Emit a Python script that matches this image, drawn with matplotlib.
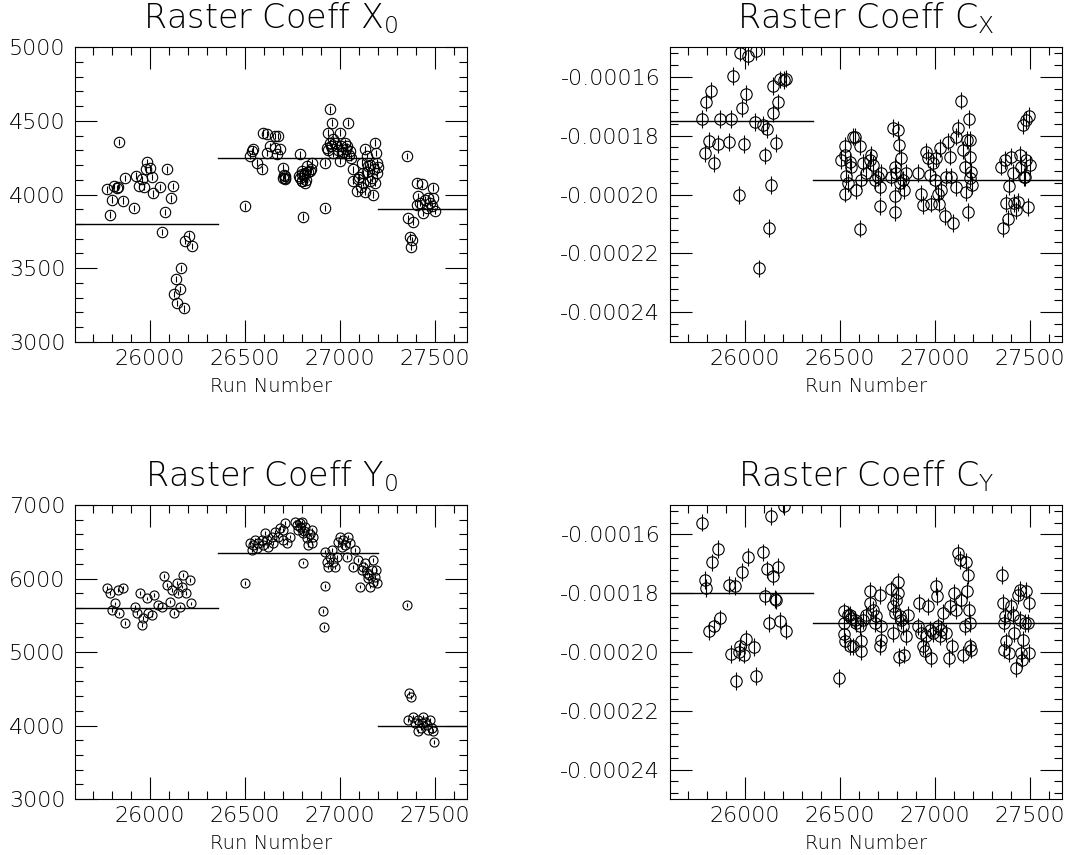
import numpy as np
import matplotlib as mpl
mpl.use('Agg')
import matplotlib.pyplot as plt
from matplotlib.ticker import FixedLocator, MultipleLocator, FormatStrFormatter


# -- DATA -------------------------------------------------------------------

x_lim = (25605, 27668)
x_ticks = [26000, 26500, 27000, 27500]

# Raster Coeff X0
x0_runs = [25839, 25775, 25798, 25789, 25812, 25825, 25833, 25856, 25868, 25918,
           25926, 25944, 25956, 25968, 25979, 25986, 26000, 26009, 26018, 26053,
           26079, 26091, 26109, 26119, 26061, 26161, 26137, 26158, 26126, 26144,
           26179, 26184, 26207, 26219,
           26500, 26526, 26535, 26544, 26561, 26588, 26596, 26614, 26614, 26632,
           26658, 26675, 26658, 26684, 26667, 26702, 26711, 26700, 26705, 26712,
           26708, 26789, 26786, 26798, 26798, 26816, 26825, 26842, 26851, 26804,
           26790, 26800, 26810, 26820, 26830, 26845, 26815, 26800,
           26921, 26921, 26930, 26939, 26947, 26956, 26947, 26965, 26982, 27000,
           27009, 27000, 27035, 27044, 27053, 27026, 26935, 26950, 26965, 26975,
           26990, 27005, 27015, 27030, 27045, 27060,
           27070, 27070, 27088, 27096, 27114, 27123, 27132, 27140, 27149, 27158,
           27175, 27184, 27189, 27193, 27196, 27184, 27100, 27120, 27140, 27160,
           27170, 27180, 27200, 27110, 27130,
           27354, 27360, 27368, 27374, 27377, 27386, 27404, 27412, 27430, 27447,
           27439, 27456, 27474, 27491, 27491, 27500, 27465, 27482, 27421, 27404]
x0_vals = [4355, 4034, 3966, 3864, 4057, 4045, 4050, 3959, 4113, 3909,
           4129, 4057, 4102, 4052, 4170, 4222, 4181, 4120, 4007, 4052,
           3880, 4170, 3973, 4057, 3746, 3499, 3426, 3358, 3324, 3263,
           3227, 3683, 3721, 3649,
           3920, 4261, 4295, 4306, 4216, 4170, 4420, 4408, 4283, 4329,
           4318, 4397, 4397, 4306, 4272, 4182, 4125, 4113, 4130, 4115,
           4105, 4272, 4125, 4159, 4091, 4147, 4193, 4159, 4216, 3850,
           4110, 4095, 4130, 4100, 4150, 4170, 4080, 4140,
           4216, 3910, 4318, 4420, 4578, 4488, 4352, 4374, 4329, 4420,
           4283, 4227, 4329, 4488, 4295, 4352, 4300, 4330, 4280, 4350,
           4300, 4330, 4290, 4310, 4270, 4250,
           4170, 4091, 4022, 4102, 4216, 4147, 4306, 4261, 4193, 4091,
           4000, 4352, 4283, 4216, 4147, 4080, 4120, 4080, 4150, 4200,
           4110, 4170, 4190, 4050, 4020,
           4263, 3839, 3714, 3646, 3692, 3816, 4080, 3991, 4068, 3966,
           3876, 3910, 3944, 4046, 3978, 3887, 3978, 3921, 3944, 3932]
x0_err = 22
x0_means = [3800, 4250, 3900]

# Raster Coeff Y0
y0_runs = [25772, 25789, 25798, 25816, 25833, 25839, 25860, 25868, 25921, 25930,
           25947, 25956, 25965, 25982, 25991, 26009, 26021, 26044, 26061, 26074,
           26088, 26105, 26114, 26126, 26140, 26149, 26158, 26167, 26175, 26189,
           26210, 26216,
           26500, 26526, 26535, 26544, 26553, 26561, 26570, 26588, 26596, 26605,
           26614, 26623, 26640, 26649, 26658, 26675, 26684, 26702, 26711, 26702,
           26719, 26737, 26763, 26772, 26781, 26789, 26798, 26807, 26816, 26825,
           26833, 26851, 26860, 26804, 26851, 26790, 26810, 26840,
           26921, 26930, 26939, 26947, 26956, 26965, 26974, 26982, 26991, 27000,
           27009, 27018, 27026, 27035, 27044, 27053, 27079, 26921, 26912, 26917,
           27070, 27096, 27105, 27114, 27132, 27140, 27149, 27158, 27167, 27175,
           27184, 27193, 27189, 27175, 27120, 27150,
           27354, 27365, 27372, 27360, 27386, 27395, 27412, 27412, 27430, 27439,
           27456, 27474, 27482, 27491, 27495, 27465, 27447, 27425]
y0_vals = [5867, 5799, 5571, 5662, 5844, 5526, 5867, 5399, 5617, 5535,
           5799, 5367, 5458, 5730, 5526, 5503, 5776, 5640, 5617, 6038,
           5912, 5685, 5844, 5535, 5935, 5799, 5617, 5890, 6049, 5799,
           5980, 5662,
           5935, 6479, 6389, 6456, 6524, 6411, 6479, 6524, 6456, 6615,
           6524, 6434, 6570, 6479, 6637, 6570, 6683, 6660, 6751, 6524,
           6479, 6570, 6773, 6728, 6660, 6751, 6773, 6615, 6705, 6547,
           6456, 6660, 6570, 6216, 6479, 6700, 6650, 6600,
           6365, 6229, 6161, 6297, 6388, 6229, 6161, 6297, 6501, 6570,
           6433, 6524, 6456, 6297, 6570, 6479, 6388, 5898, 5558, 5336,
           6161, 6252, 5889, 6116, 6206, 6070, 6002, 5889, 6116, 6252,
           6025, 5935, 6116, 5957, 6150, 6050,
           5640, 4438, 4392, 4075, 4120, 4030, 3923, 4075, 4030, 4120,
           4007, 4075, 3962, 3923, 3780, 3940, 4052, 3962]
y0_err = 25
y0_means = [5600, 6350, 4000]

# Raster Coeff Cx (units of 1e-6)
cx_runs = [25773, 25787, 25795, 25810, 25822, 25834, 25857, 25866, 25913, 25924,
           25939, 25966, 25976, 25983, 25997, 26006, 26015, 26050, 26059, 26073,
           26094, 26104, 26115, 26134, 26125, 26146, 26146, 26161, 26176, 26185,
           26203, 26217,
           26506, 26527, 26528, 26532, 26528, 26550, 26541, 26567, 26558,
           26576, 26585, 26606, 26606, 26611, 26620, 26638, 26655, 26664, 26673,
           26682, 26699, 26708, 26711, 26717, 26778, 26804, 26810, 26787, 26769,
           26796, 26787, 26787, 26822, 26831, 26839, 26848, 26813,
           26910, 26927, 26936, 26954, 26962, 26971, 26980, 26989, 26997, 27006,
           27015, 27020, 27027, 27032, 27050, 27059, 27068, 27076, 27085, 27094,
           27108, 27111, 27122, 27138, 27146, 27155, 27164, 27168, 27173, 27176,
           27182, 27185, 27190, 27196, 27185,
           27348, 27357, 27366, 27371, 27383, 27389, 27401, 27410, 27413, 27427,
           27436, 27445, 27453, 27462, 27466, 27480, 27480, 27489, 27494, 27497,
           27471]
cx_vals = [-174.4, -185.8, -168.5, -181.7, -164.7, -189.2, -182.9, -174.4, -182.1, -174.4,
           -159.8, -200.2, -151.8, -170.6, -182.9, -165.8, -152.9, -175.3, -151.3, -225.1,
           -176.3, -186.7, -177.8, -196.7, -211.3, -172.3, -163.2, -182.6, -168.7, -160.9,
           -161.1, -160.6,
           -188.3, -183.5, -186.6, -193.7, -199.7, -188.8, -196.2, -180.3, -190.5,
           -180.3, -198.5, -211.6, -183.5, -195.1, -189.4, -192.8, -188.3, -186.6, -190.0,
           -195.1, -194.0, -197.4, -203.9, -192.8, -177.4, -178.0, -183.1, -190.5, -194.0,
           -192.8, -200.6, -205.9, -187.7, -195.1, -198.5, -192.8, -196.2,
           -192.8, -199.7, -203.6, -185.4, -187.7, -193.4, -203.1, -189.4, -195.1, -187.7,
           -199.7, -203.1, -184.3, -198.5, -207.4, -194.0, -182.0, -187.1, -194.0, -209.7,
           -180.3, -197.4, -177.4, -168.1, -184.8, -190.5, -199.1, -181.4, -205.9, -174.3,
           -187.1, -181.4, -192.3, -196.8, -194.5,
           -190.5, -211.4, -188.3, -202.8, -208.2, -197.2, -187.1, -192.8, -202.8, -205.4,
           -202.5, -186.6, -190.5, -176.3, -194.0, -174.6, -188.3, -204.2, -173.2, -190.0,
           -194.0]
cx_err = 3.0
cx_means = [-175, -195]

# Raster Coeff Cy (units of 1e-6)
cy_runs = [25773, 25790, 25795, 25810, 25825, 25836, 25857, 25866, 25913, 25924,
           25945, 25953, 25966, 25975, 25983, 25997, 26003, 26015, 26047, 26059,
           26094, 26104, 26115, 26126, 26138, 26146, 26155, 26161, 26176, 26185,
           26203, 26213,
           26497, 26523, 26523, 26523, 26525, 26541, 26550, 26558,
           26550, 26568, 26576, 26585, 26603, 26611, 26611, 26620, 26638, 26655,
           26659, 26673, 26682, 26690, 26708, 26711, 26717, 26717, 26769, 26778,
           26787, 26796, 26804, 26804, 26813, 26810, 26822, 26831, 26839, 26848,
           26857, 26778,
           26918, 26910, 26927, 26936, 26945, 26954, 26962, 26971, 26980, 26989,
           27003, 27010, 27015, 27024, 27032, 27041, 27059, 27073, 27076, 27090,
           27097, 27111, 27120, 27129, 27138, 27146, 27155, 27164, 27168, 27173,
           27178, 27182, 27185, 27190,
           27354, 27357, 27366, 27361, 27361, 27375, 27389, 27401, 27410, 27418,
           27427, 27436, 27445, 27448, 27453, 27462, 27471, 27480, 27489, 27494,
           27494, 27458]
cy_vals = [-156.0, -175.5, -178.3, -192.9, -169.5, -191.0, -165.0, -188.6, -177.2, -200.7,
           -177.5, -209.9, -200.1, -198.1, -172.8, -200.9, -195.6, -167.6, -198.4, -208.2,
           -166.1, -180.9, -171.9, -190.2, -153.8, -174.1, -182.0, -182.3, -171.0, -189.3,
           -150.4, -192.7,
           -208.8, -186.2, -190.2, -193.9, -196.4, -187.3, -198.1, -188.5,
           -187.4, -198.1, -189.1, -190.2, -191.3, -199.8, -196.4, -189.1, -187.4, -179.1,
           -183.4, -185.7, -190.2, -187.9, -180.6, -198.1, -195.8, -191.3, -178.7, -184.5,
           -186.8, -182.3, -176.1, -180.0, -187.9, -201.7, -189.1, -191.3, -200.9, -194.7,
           -187.4, -193.6,
           -183.4, -191.3, -193.6, -198.1, -199.8, -194.7, -184.5, -192.4, -202.0, -193.6,
           -177.5, -181.1, -191.3, -194.7, -192.4, -186.8, -193.6, -202.0, -184.5, -198.1,
           -180.0, -185.7, -166.2, -168.7, -182.3, -200.9, -191.3, -169.3, -179.1, -173.8,
           -185.7, -198.1, -190.2, -199.2,
           -173.8, -183.4, -187.9, -190.2, -199.2, -196.4, -200.3, -184.5, -187.4, -193.6,
           -205.4, -180.6, -178.9, -189.1, -200.3, -195.8, -190.2, -179.1, -190.2, -183.4,
           -200.3, -202.6]
cy_err = 3.0
cy_means = [-180, -190]

edges_3 = [x_lim[0], 26360, 27200, x_lim[1]]
edges_2 = [x_lim[0], 26360, x_lim[1]]


# -- STYLE ------------------------------------------------------------------

plt.rcParams.update({
    'font.family': 'DejaVu Sans',
    'mathtext.default': 'regular',
    'axes.unicode_minus': False,
    'axes.linewidth': 0.8,
})
fw = 'ultralight'

fig = plt.figure(figsize=(10.69, 8.55), dpi=100)
W, H = 1069., 855.


def make_ax(x0, x1, y0, y1):
    return fig.add_axes([x0 / W, 1 - y1 / H, (x1 - x0) / W, (y1 - y0) / H])


ax1 = make_ax(75, 467, 47.3, 341.7)
ax2 = make_ax(670, 1062, 47.3, 341.7)
ax3 = make_ax(75, 467, 505, 799)
ax4 = make_ax(670, 1062, 505, 799)


def style_ax(ax, title, y_lim, y_major, y_minor, fmt):
    ax.set_xlim(x_lim)
    ax.xaxis.set_major_locator(FixedLocator(x_ticks))
    ax.xaxis.set_minor_locator(MultipleLocator(100))
    ax.set_ylim(y_lim)
    ax.yaxis.set_major_locator(FixedLocator(y_major))
    ax.yaxis.set_minor_locator(MultipleLocator(y_minor))
    ax.yaxis.set_major_formatter(FormatStrFormatter(fmt))
    ax.tick_params(which='both', direction='in', top=True, right=True,
                   color='k', width=0.8)
    ax.tick_params(which='major', length=16)
    ax.tick_params(which='minor', length=5.5)
    ax.tick_params(axis='x', which='major', pad=5, labelsize=16)
    ax.tick_params(axis='y', which='major', pad=7, labelsize=16)
    for lab in ax.get_xticklabels() + ax.get_yticklabels():
        lab.set_fontweight(fw)
    ax.set_xlabel('Run Number', fontsize=14, fontweight=fw, labelpad=6)
    ax.text(0.5, 1.065, title, transform=ax.transAxes, ha='center',
            va='baseline', fontsize=24, fontweight=fw)


def draw(ax, runs, vals, err, ms, means, edges, scale=1.0):
    v = np.array(vals) * scale
    ax.errorbar(runs, v, yerr=err * scale, fmt='o', mfc='none', mec='k',
                ms=ms, mew=0.8, ecolor='k', elinewidth=0.8, capsize=0)
    for i, m in enumerate(means):
        ax.plot([edges[i], edges[i + 1]], [m * scale, m * scale],
                color='k', lw=1.0)


draw(ax1, x0_runs, x0_vals, x0_err, 7.5, x0_means, edges_3)
style_ax(ax1, r'Raster Coeff X$_0$', (3000, 5000),
         [3000, 3500, 4000, 4500, 5000], 100, '%d')

draw(ax2, cx_runs, cx_vals, cx_err, 8.2, cx_means, edges_2, scale=1e-6)
style_ax(ax2, r'Raster Coeff C$_X$', (-0.00025, -0.00015),
         [-0.00024, -0.00022, -0.00020, -0.00018, -0.00016], 0.000004, '%.5f')

draw(ax3, y0_runs, y0_vals, y0_err, 6.5, y0_means, edges_3)
style_ax(ax3, r'Raster Coeff Y$_0$', (3000, 7000),
         [3000, 4000, 5000, 6000, 7000], 200, '%d')

draw(ax4, cy_runs, cy_vals, cy_err, 8.2, cy_means, edges_2, scale=1e-6)
style_ax(ax4, r'Raster Coeff C$_Y$', (-0.00025, -0.00015),
         [-0.00024, -0.00022, -0.00020, -0.00018, -0.00016], 0.000004, '%.5f')

plt.savefig('out.png', dpi=100)
